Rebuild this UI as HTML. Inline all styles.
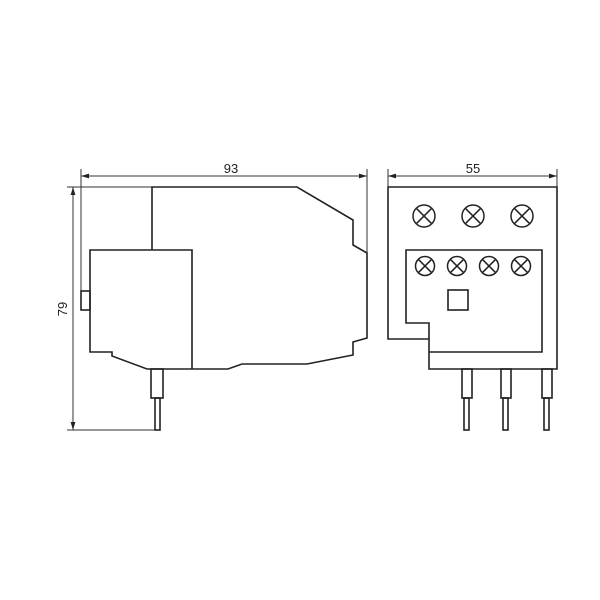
<!DOCTYPE html>
<html><head><style>html,body{margin:0;padding:0;background:#fff}svg{display:block}</style></head><body>
<svg width="600" height="600" viewBox="0 0 600 600" xmlns="http://www.w3.org/2000/svg">
<defs>
<marker id="a" viewBox="0 0 10 6" refX="10" refY="3" markerWidth="8" markerHeight="5" orient="auto-start-reverse" markerUnits="userSpaceOnUse"><path d="M0,0L10,3L0,6z" fill="#222"/></marker>
</defs>
<g fill="none" stroke="#333" stroke-width="1">
<!-- left view dims -->
<line x1="81" y1="169" x2="81" y2="291"/>
<line x1="367" y1="169" x2="367" y2="253"/>
<line x1="81" y1="176" x2="367" y2="176" marker-start="url(#a)" marker-end="url(#a)"/>
<line x1="67" y1="187" x2="152" y2="187"/>
<line x1="67" y1="430" x2="156" y2="430"/>
<line x1="73" y1="187" x2="73" y2="430" marker-start="url(#a)" marker-end="url(#a)"/>
</g>
<g fill="none" stroke="#222" stroke-width="1.6">
<polyline points="152,250 152,187 297,187 353,220 353,245 367,253 367,338 353,342 353,355 307,364 242,364 228,369 192,369"/>
<polyline points="192,369 192,250 90,250 90,352 112,352 112,356 147,369 192,369"/>
<rect x="81" y="291" width="9" height="19"/>
<rect x="151" y="369" width="12" height="29"/>
<rect x="155" y="398" width="5" height="32"/>
<!-- right view -->
<polygon points="388,187 557,187 557,369 429,369 429,339 388,339"/>
<polyline points="429,339 429,323 406,323 406,250 542,250 542,352 429,352"/>
<rect x="448" y="290" width="20" height="20"/>
<rect x="462" y="369" width="10" height="29"/>
<rect x="464" y="398" width="5" height="32"/>
<rect x="501" y="369" width="10" height="29"/>
<rect x="503" y="398" width="5" height="32"/>
<rect x="542" y="369" width="10" height="29"/>
<rect x="544" y="398" width="5" height="32"/>
</g>
<g fill="none" stroke="#333" stroke-width="1">
<line x1="388" y1="169" x2="388" y2="187"/>
<line x1="557" y1="169" x2="557" y2="187"/>
<line x1="388" y1="176" x2="557" y2="176" marker-start="url(#a)" marker-end="url(#a)"/>
</g>
<g fill="none" stroke="#222" stroke-width="1.5">
<g transform="translate(424,216)"><circle r="11"/><path d="M-7.8,-7.8L7.8,7.8M-7.8,7.8L7.8,-7.8"/></g>
<g transform="translate(473,216)"><circle r="11"/><path d="M-7.8,-7.8L7.8,7.8M-7.8,7.8L7.8,-7.8"/></g>
<g transform="translate(522,216)"><circle r="11"/><path d="M-7.8,-7.8L7.8,7.8M-7.8,7.8L7.8,-7.8"/></g>
<g transform="translate(425,266)"><circle r="9.5"/><path d="M-6.7,-6.7L6.7,6.7M-6.7,6.7L6.7,-6.7"/></g>
<g transform="translate(457,266)"><circle r="9.5"/><path d="M-6.7,-6.7L6.7,6.7M-6.7,6.7L6.7,-6.7"/></g>
<g transform="translate(489,266)"><circle r="9.5"/><path d="M-6.7,-6.7L6.7,6.7M-6.7,6.7L6.7,-6.7"/></g>
<g transform="translate(521,266)"><circle r="9.5"/><path d="M-6.7,-6.7L6.7,6.7M-6.7,6.7L6.7,-6.7"/></g>
</g>
<g font-family="Liberation Sans, sans-serif" font-size="13" fill="#222" text-anchor="middle">
<text x="231" y="173">93</text>
<text x="473" y="173">55</text>
<text transform="translate(67,309) rotate(-90)">79</text>
</g>
</svg>
</body></html>
